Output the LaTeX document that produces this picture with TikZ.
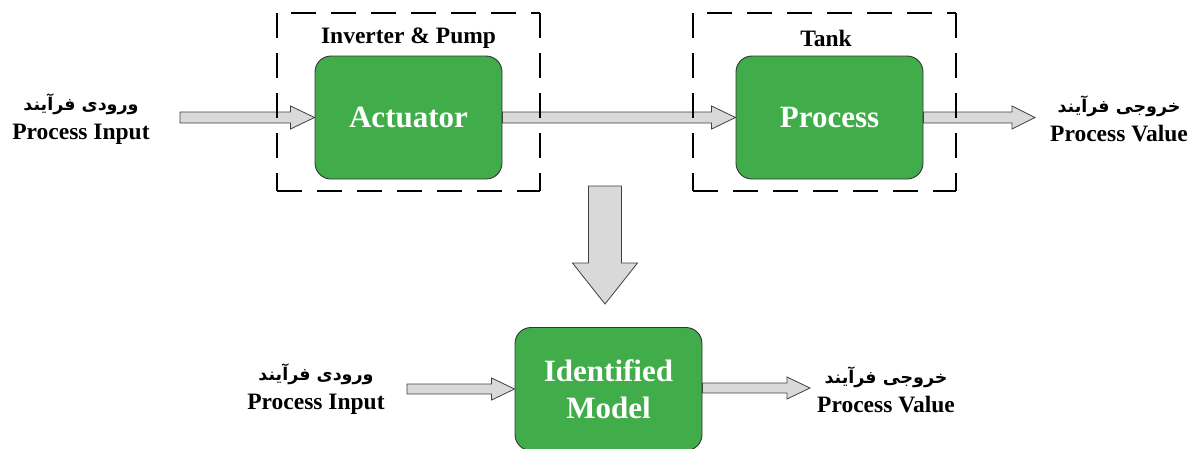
\documentclass[tikz,border=0pt]{standalone}
\usepackage{fontspec}
\setmainfont{Liberation Serif}
\newfontfamily\arabicfont[Script=Arabic]{DejaVu Sans}
\TeXXeTstate=1
\usetikzlibrary{calc}

\definecolor{blockgreen}{RGB}{65,173,74}
\definecolor{arrowfill}{RGB}{217,217,217}
\definecolor{arrowedge}{RGB}{64,64,64}

\tikzset{
  stage/.style={draw=black!80, line width=0.9pt, fill=blockgreen,
    rounded corners=16pt, minimum width=187pt, minimum height=123pt,
    inner sep=0pt, align=center, text=white,
    font=\bfseries\fontsize{31}{37}\selectfont},
  groupbox/.style={draw=black, line width=1.4pt, dash pattern=on 25pt off 15pt},
  grouplabel/.style={font=\bfseries\fontsize{23.5}{28}\selectfont, inner sep=0pt},
  iolabel/.style={align=center, inner sep=0pt,
    font=\bfseries\fontsize{23.5}{29}\selectfont},
  fatarrow/.style={draw=arrowedge, fill=arrowfill, line width=0.8pt, line join=miter},
}

% horizontal block arrow from #1 to #2 (shaft half width, head half width, head length)
\newcommand{\hblockarrow}[5]{%
  \path[fatarrow] let \p1=(#1), \p2=(#2) in
    (\x1,\y2+#3) -- (\x2-#5,\y2+#3) -- (\x2-#5,\y2+#4) -- (\x2,\y2)
    -- (\x2-#5,\y2-#4) -- (\x2-#5,\y2-#3) -- (\x1,\y2-#3) -- cycle;}
% vertical (downward) block arrow from #1 to #2
\newcommand{\vblockarrow}[5]{%
  \path[fatarrow] let \p1=(#1), \p2=(#2) in
    (\x2-#3,\y1) -- (\x2-#3,\y2+#5) -- (\x2-#4,\y2+#5) -- (\x2,\y2)
    -- (\x2+#4,\y2+#5) -- (\x2+#3,\y2+#5) -- (\x2+#3,\y1) -- cycle;}

\begin{document}
\begin{tikzpicture}[x=1pt, y=-1pt]
  \clip (0,0) rectangle (1199,448);
  \fill[white] (0,0) rectangle (1199,448);

  % top row: plant
  \node[stage] (act)  at (408.5,117.5) {Actuator};
  \node[stage] (proc) at (829.5,117.5) {Process};

  % identified model
  \node[stage] (model) at (608.5,389) {Identified\\Model};

  % free ends of the arrows
  \coordinate (inA)   at (180,117.5);
  \coordinate (outA)  at (1035,117.5);
  \coordinate (inB)   at (407,388);
  \coordinate (outB)  at (810,388);
  \coordinate (dnTop) at (605,186);
  \coordinate (dnTip) at (605,304);

  % block arrows
  \hblockarrow{inA}{act.west}{5.5pt}{11.5pt}{24pt}
  \hblockarrow{act.east}{proc.west}{5.5pt}{11.5pt}{24pt}
  \hblockarrow{proc.east}{outA}{5.5pt}{11.5pt}{23pt}
  \hblockarrow{inB}{model.west}{5pt}{11pt}{23pt}
  \hblockarrow{model.east}{outB}{5pt}{11pt}{23pt}
  \vblockarrow{dnTop}{dnTip}{16.5pt}{32.5pt}{41pt}

  % dashed groups; the top edge begins with a gap, the others with a dash
  \foreach \l/\r in {277/540, 693/956}{
    \draw[groupbox, dash phase=-14pt] (\l,13) -- (\r,13);
    \draw[groupbox] (\l,191) -- (\r,191);
    \draw[groupbox] (\l,13) -- (\l,191);
    \draw[groupbox] (\r,13) -- (\r,191);
  }
  \node[grouplabel] (invlbl)  at (408.5,38) {Inverter \& Pump};
  \node[grouplabel] (tanklbl) at (826,38) {Tank};

  % input / output labels
  \node[iolabel] (lblInA) at (81,119)
    {{\arabicfont\fontsize{17.5}{29}\selectfont\beginR ورودی فرآیند\endR}\\Process Input};
  \node[iolabel] (lblOutA) at (1119,119)
    {{\arabicfont\fontsize{17.5}{29}\selectfont\beginR خروجی فرآیند\endR}\\Process Value};
  \node[iolabel] (lblInB) at (316,389)
    {{\arabicfont\fontsize{17.5}{29}\selectfont\beginR ورودی فرآیند\endR}\\Process Input};
  \node[iolabel] (lblOutB) at (886,390)
    {{\arabicfont\fontsize{17.5}{29}\selectfont\beginR خروجی فرآیند\endR}\\Process Value};
\end{tikzpicture}
\end{document}
